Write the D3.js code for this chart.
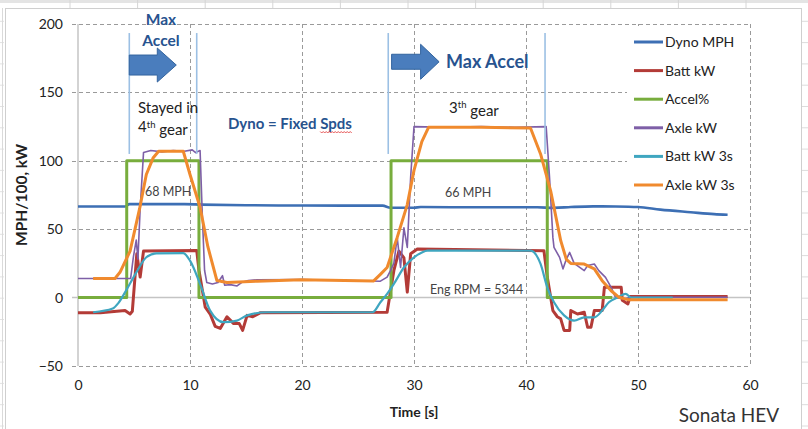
<!DOCTYPE html>
<html>
<head>
<meta charset="utf-8">
<script src="https://cdn.jsdelivr.net/npm/d3@7"></script>
<style>

html, body {
  margin: 0;
  padding: 0;
  overflow: hidden;
  background: #fff;
}

text {
  font-family: Lato, "Open Sans", sans-serif;
}

</style>
</head>
<body>
<script>

// axis ticks
var xTicks = [0, 10, 20, 30, 40, 50, 60],
    yTicks = [-50, 0, 50, 100, 150, 200];

var names  = ['Dyno MPH', 'Batt kW', 'Accel%', 'Axle kW', 'Batt kW 3s', 'Axle kW 3s'];

// [time s, value]
var dynoMph = [[0,66.6],[4.2,66.6],[4.6,68.3],[9.5,68.3],[11,68],[15,67.5],[20,67.3],[27.2,67.2],
  [27.9,65.7],[30,65.7],[30.6,66.2],[36,66],[41,66],[42.5,65.6],[44,66.2],[46,66.7],[48,66.6],
  [50,66.2],[52,64.3],[54.7,62.4],[56.8,61],[58,60.6]];

var battKw = [[0,-11],[2,-11],[4.2,-9.5],[4.65,-12],[4.85,-10],[5.25,32],[5.55,15],[5.85,34],
  [10.6,34.5],[10.8,20],[11.36,-7],[11.8,-12],[12.25,-21],[12.7,-22.5],[13.3,-14],[13.9,-19],
  [14.4,-19],[14.7,-24],[15.1,-13],[15.6,-14],[16.3,-11],[27.6,-10.7],[28.2,19.7],[28.65,34],
  [29.1,29],[29.4,4],[29.7,32],[30.3,35.5],[41.6,34.3],[41.9,15],[42.4,-9.5],[42.8,-14],
  [43.1,-15.5],[43.4,-24],[43.9,-24],[44.0,-9.5],[44.6,-12],[45.2,-10.7],[45.5,-21.7],
  [45.8,-21.7],[46.1,-9.5],[46.8,-9.5],[47,7.5],[48.5,7.5],[48.6,-2],[49.1,-4.6],[49.3,0.8],[58,0.8]];

var accelPct = [[0,0],[4.35,0],[4.35,100],[10.8,100],[10.8,0],[27.95,0],[27.95,100],
  [41.9,100],[41.9,0],[47.7,0]];

var axleKw = [[0,14],[4.7,14],[4.95,30],[5.2,42],[5.35,28],[5.55,65],[5.85,106],[6.5,107.5],
  [7.5,106.5],[8.5,107.5],[9.5,107],[10.2,108],[10.5,106],[10.9,107.5],[11.1,60],[11.3,20],
  [11.5,11],[12,10],[12.5,11],[12.9,16],[13.1,9],[13.6,9.5],[14.2,8.5],[14.6,11],[15.2,12.5],
  [16,13],[20,13.2],[27,12],[27.6,15],[27.9,19.7],[28.2,25],[28.5,44],[28.8,22],[29.1,51],
  [29.4,36.7],[29.7,88],[30,125],[33,124.5],[36,125],[39,124.5],[41.8,125],[42.1,88],[42.4,44],
  [42.5,36.7],[43,29.4],[43.3,21],[43.6,28],[43.9,33],[44.3,25],[45.2,19.7],[45.5,23.4],
  [46.1,24.6],[46.5,19.7],[47.1,14.8],[47.6,7.5],[48,0],[48.8,-1],[49.3,0.3],[58,0.3]];

var battKw3s = [[1.35,-10.7],[3.1,-8],[3.6,-4],[4.35,6],[5.25,19],[6.1,29.5],[7,32.4],[9.4,32.5],
  [10,27],[10.9,10],[11.8,-9.5],[13,-18],[14.2,-16.8],[15.1,-13],[16.9,-10.7],[26.3,-10.7],
  [27,-3.4],[27.6,2.7],[28.2,10],[29.1,22],[30,29.4],[30.7,33],[31.2,34.3],[40.4,34.3],
  [41.3,24.6],[41.9,7.5],[42.5,-3.4],[43.4,-13],[44.3,-16.8],[45.2,-14.4],[46.1,-14.4],
  [46.8,-9.5],[47.4,-3.4],[48.2,0.2],[48.9,2.7],[49.4,0],[53.1,0]];

var axleKw3s = [[1.35,14],[3.3,14],[3.75,18.5],[4.65,34],[5.5,65],[6.1,90],[6.7,102],[7.2,107],
  [9.4,107],[10,90],[10.9,66],[11.6,37],[12.4,12.5],[13.3,11],[16,12],[19.9,13],[26.4,12.2],
  [27,17],[27.6,22],[28.5,44],[29.4,68],[30,93],[30.7,114],[31.3,124.5],[36,124.5],[40.4,124],
  [41.3,105],[42.2,78],[43.1,41.6],[43.6,28],[44,25],[45.2,24.5],[46.1,21],[46.8,12.4],
  [47.6,5],[48.3,0.2],[49.1,-1.5],[58,-1.5]];

var seriesData = [dynoMph, battKw, accelPct, axleKw, battKw3s, axleKw3s];

var colors = ['#3d6fb4', '#b33b37', '#78ad3d', '#7e5fa7', '#3fa6c0', '#f08a2e'],
    widths = [2.6, 3, 3, 1.6, 2.2, 3];

var w = 808,
    h = 429,
    svg = d3.select('body').append('svg')
      .attr('width', w)
      .attr('height', h);

var x = d3.scaleLinear().domain([0, 60]).range([78, 750]),
    y = d3.scaleLinear().domain([-50, 200]).range([366, 24]);

// spreadsheet behind the chart
var bg = svg.append('g');
bg.append('rect').attr('x', 0).attr('y', 0).attr('width', w).attr('height', 3).attr('fill', '#e4e4e4');
d3.range(70, 808, 67.6).forEach(function(cx){
  bg.append('line').attr('x1', cx).attr('x2', cx).attr('y1', 0).attr('y2', 8)
    .attr('stroke', '#d6d6d6');
});
d3.range(21.3, 429, 21.3).forEach(function(cy){
  bg.append('line').attr('x1', 802).attr('x2', 808).attr('y1', cy).attr('y2', cy)
    .attr('stroke', '#dcdcdc');
  bg.append('line').attr('x1', 0).attr('x2', 4).attr('y1', cy).attr('y2', cy)
    .attr('stroke', '#e2e2e2');
});
bg.append('line').attr('x1', 2.5).attr('x2', 2.5).attr('y1', 8).attr('y2', h).attr('stroke', '#dadada');

// chart frame
svg.append('rect')
  .attr('x', 5.5).attr('y', 8.5)
  .attr('width', 796).attr('height', 430)
  .attr('fill', '#fff')
  .attr('stroke', '#cfcfcf');

// gridlines
var grid = svg.append('g');
grid.selectAll('line.h')
  .data(yTicks.filter(function(d){ return d !== 0; }))
  .enter().append('line')
  .attr('x1', x(0) - 6).attr('x2', x(60))
  .attr('y1', function(d){ return Math.round(y(d)) + 0.5; })
  .attr('y2', function(d){ return Math.round(y(d)) + 0.5; })
  .attr('stroke', '#9a9a9a')
  .attr('stroke-dasharray', '4,3');

grid.selectAll('line.v')
  .data(xTicks.filter(function(d){ return d !== 0; }))
  .enter().append('line')
  .attr('x1', function(d){ return Math.round(x(d)) + 0.5; })
  .attr('x2', function(d){ return Math.round(x(d)) + 0.5; })
  .attr('y1', y(200)).attr('y2', y(-50))
  .attr('stroke', '#9a9a9a')
  .attr('stroke-dasharray', '4,3');

// legend box hides the grid behind it
svg.append('rect')
  .attr('x', 627).attr('y', 26)
  .attr('width', 121).attr('height', 170)
  .attr('fill', '#fff');

// zero line and value axis line
svg.append('line')
  .attr('x1', x(0) - 6).attr('x2', x(60))
  .attr('y1', y(0)).attr('y2', y(0))
  .attr('stroke', '#c4c4c4').attr('stroke-width', 1.5);
svg.append('line')
  .attr('x1', x(0)).attr('x2', x(0))
  .attr('y1', y(200)).attr('y2', y(-50))
  .attr('stroke', '#c4c4c4').attr('stroke-width', 1.5);

// tick labels through d3 axes
var yAxis = svg.append('g')
  .attr('transform', 'translate(' + x(0) + ',0)')
  .call(d3.axisLeft(y).tickValues(yTicks).tickSize(0).tickPadding(15));
var xAxis = svg.append('g')
  .attr('transform', 'translate(0,' + y(-50) + ')')
  .call(d3.axisBottom(x).tickValues(xTicks).tickSize(0).tickPadding(14));
[yAxis, xAxis].forEach(function(a){
  a.select('.domain').remove();
  a.selectAll('text')
    .attr('font-family', 'Lato, sans-serif')
    .attr('font-size', 14)
    .attr('fill', '#222');
});

// axis titles
svg.append('text')
  .attr('transform', 'translate(27,' + ((y(200) + y(-50)) / 2) + ') rotate(-90)')
  .attr('text-anchor', 'middle')
  .attr('font-size', 15.5)
  .attr('font-weight', 'bold')
  .attr('fill', '#222')
  .text('MPH/100, kW');

svg.append('text')
  .attr('x', 414).attr('y', 417)
  .attr('text-anchor', 'middle')
  .attr('font-size', 14)
  .attr('font-weight', 'bold')
  .attr('fill', '#222')
  .text('Time [s]');

svg.append('text')
  .attr('x', 729).attr('y', 422)
  .attr('text-anchor', 'middle')
  .attr('font-size', 19)
  .attr('fill', '#333')
  .text('Sonata HEV');

// series
var line = d3.line()
  .x(function(d){ return x(d[0]); })
  .y(function(d){ return y(d[1]); });

var smooth = d3.line()
  .curve(d3.curveMonotoneX)
  .x(function(d){ return x(d[0]); })
  .y(function(d){ return y(d[1]); });

seriesData.forEach(function(s, i){
  svg.append('path')
    .datum(s)
    .attr('fill', 'none')
    .attr('stroke', colors[i])
    .attr('stroke-width', widths[i])
    .attr('stroke-linejoin', 'round')
    .attr('d', (i === 0 || i === 4) ? smooth : line);
});

// annotations, positioned in data units
var markers = [4.58, 10.6, 27.7, 41.7];
svg.selectAll('line.mark')
  .data(markers)
  .enter().append('line')
  .attr('x1', function(d){ return x(d); })
  .attr('x2', function(d){ return x(d); })
  .attr('y1', y(193.4)).attr('y2', y(105))
  .attr('stroke', '#9cc0e4')
  .attr('stroke-width', 1.6);

function arrow(t, v, len, headLen, bodyH, headH) {
  var x0 = x(t), y0 = y(v);
  var p = [
    [x0, y0 - bodyH / 2], [x0 + len - headLen, y0 - bodyH / 2], [x0 + len - headLen, y0 - headH / 2],
    [x0 + len, y0], [x0 + len - headLen, y0 + headH / 2], [x0 + len - headLen, y0 + bodyH / 2],
    [x0, y0 + bodyH / 2]
  ];
  svg.append('path')
    .attr('d', 'M' + p.join('L') + 'Z')
    .attr('fill', '#4a7dbd')
    .attr('stroke', '#33649e')
    .attr('stroke-width', 1);
}
arrow(4.58, 170, 47, 19, 20, 34);
arrow(28.0, 172.4, 47.5, 18.5, 15, 35);

var blue = '#27538f';

function label(t, v, str, opts) {
  opts = opts || {};
  return svg.append('text')
    .attr('x', x(t)).attr('y', y(v))
    .attr('dy', '0.35em')
    .attr('text-anchor', opts.anchor || 'start')
    .attr('font-size', opts.size || 14)
    .attr('font-weight', opts.bold ? 'bold' : 'normal')
    .attr('fill', opts.color || '#222')
    .text(str);
}

label(7.41, 202.9, 'Max', {anchor: 'middle', size: 15.5, bold: true, color: blue});
label(7.41, 187.6, 'Accel', {anchor: 'middle', size: 15.5, bold: true, color: blue});
label(5.36, 138.6, 'Stayed in', {size: 15});

var g4 = label(5.36, 124.7, '4', {size: 15});
g4.append('tspan').attr('font-size', 9.5).attr('dy', '-0.5em').text('th');
g4.append('tspan').attr('dy', '0.5em').text(' gear');

var dyno = label(13.39, 126.9, 'Dyno = Fixed Spds', {size: 15, bold: true, color: blue});

label(32.86, 172.2, 'Max Accel', {size: 18, bold: true, color: blue});

var g3 = label(33.13, 138.6, '3', {size: 15});
g3.append('tspan').attr('font-size', 9.5).attr('dy', '-0.5em').text('th');
g3.append('tspan').attr('dy', '0.5em').text(' gear');

label(5.98, 77.2, '68 MPH', {size: 12.5, color: '#444'});
label(32.77, 76.5, '66 MPH', {size: 12.5, color: '#444'});
label(31.43, 5.6, 'Eng RPM = 5344', {size: 12.5, color: '#444'});

// spell-check squiggle under "Spds"
var dn = dyno.node(),
    sx = dn.getStartPositionOfChar(13).x,
    ex = sx + dn.getSubStringLength(13, 4),
    sy = y(126.9) + 8,
    zig = [];
for (var zx = sx, k = 0; zx <= ex; zx += 1.5, k++) {
  zig.push([zx, sy + (k % 2 ? 1 : -0.5)]);
}
svg.append('path')
  .attr('d', 'M' + zig.join('L'))
  .attr('fill', 'none')
  .attr('stroke', '#e03030')
  .attr('stroke-width', 0.8);

// legend
var leg = svg.append('g');
names.forEach(function(n, i){
  var ly = 42 + i * 28.6;
  leg.append('line')
    .attr('x1', 634).attr('x2', 663)
    .attr('y1', ly).attr('y2', ly)
    .attr('stroke', colors[i])
    .attr('stroke-width', 3);
  leg.append('text')
    .attr('x', 665).attr('y', ly)
    .attr('dy', '0.35em')
    .attr('font-size', 14)
    .attr('fill', '#222')
    .text(n);
});

</script>
</body>
</html>
